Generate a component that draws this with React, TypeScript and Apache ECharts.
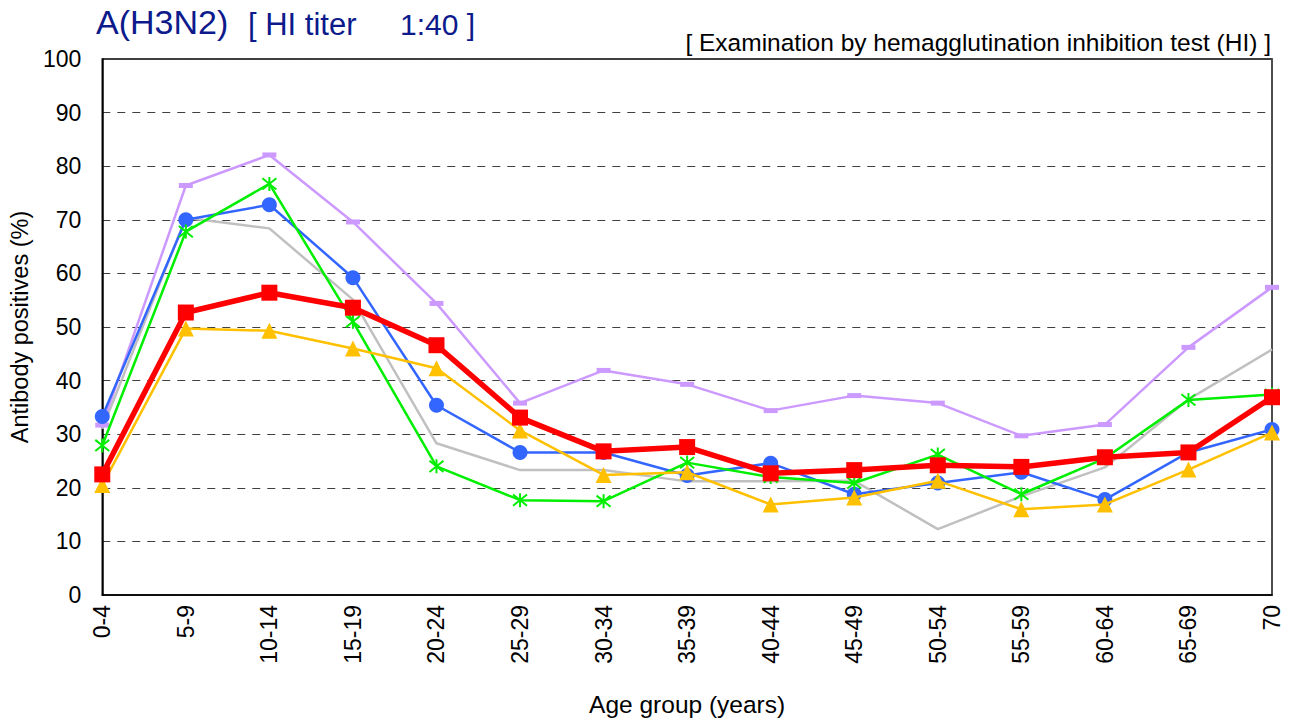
import React, { useEffect, useRef } from "react";
import * as echarts from "echarts";

const categories = ["0-4","5-9","10-14","15-19","20-24","25-29","30-34","35-39","40-44","45-49","50-54","55-59","60-64","65-69","70"];
const graySeries = [31.0, 70.4, 68.4, 55.1, 28.3, 23.3, 23.3, 21.2, 21.2, 21.3, 12.3, 18.4, 23.8, 36.5, 45.8];
const purpleSeries = [31.7, 76.4, 82.1, 69.6, 54.4, 35.8, 41.9, 39.3, 34.4, 37.2, 35.8, 29.7, 31.8, 46.2, 57.4];
const blueSeries = [33.3, 70.0, 72.8, 59.2, 35.4, 26.6, 26.6, 22.3, 24.6, 18.8, 20.9, 22.9, 17.8, 26.6, 30.9];
const greenSeries = [27.9, 67.8, 76.7, 51.0, 24.0, 17.7, 17.5, 24.7, 22.0, 20.9, 26.2, 18.8, 25.5, 36.4, 37.4];
const yellowSeries = [20.5, 49.7, 49.3, 46.0, 42.3, 30.7, 22.4, 22.9, 16.9, 18.2, 21.3, 16.0, 16.9, 23.4, 30.3];
const redSeries = [22.5, 52.7, 56.4, 53.6, 46.6, 33.1, 26.8, 27.6, 22.7, 23.3, 24.2, 23.9, 25.7, 26.6, 36.9];

const asterisk = "path://M1,1L9,9M9,1L1,9M5,0L5,10";

export default function App() {
  const ref = useRef<HTMLDivElement>(null);
  useEffect(() => {
    if (!ref.current) return;
    const chart = echarts.init(ref.current, null, { renderer: "svg" });
    const font = "'Liberation Sans', Arial, sans-serif";
    chart.setOption({
      animation: false,
      textStyle: { fontFamily: font },
      graphic: [
        { type: "text", left: 96, top: 5, style: { text: "A(H3N2)", font: "34px " + font, fill: "#0d1a8c" } },
        { type: "text", left: 248, top: 9, style: { text: "[ HI titer", font: "31px " + font, fill: "#0d1a8c" } },
        { type: "text", left: 400, top: 9, style: { text: "1:40 ]", font: "30px " + font, fill: "#0d1a8c" } },
        { type: "text", right: 19, top: 30, style: { text: "[ Examination by hemagglutination inhibition test (HI) ]", font: "24.5px " + font, fill: "#000" } },
      ],
      grid: { left: 102, right: 18, top: 59, bottom: 126, containLabel: false, show: true, borderColor: "#000", borderWidth: 1.5 },
      xAxis: {
        type: "category",
        data: categories,
        boundaryGap: false,
        axisLine: { lineStyle: { color: "#000", width: 1.5 } },
        axisTick: { show: false },
        axisLabel: { rotate: 90, fontSize: 23, color: "#000", margin: 10, fontFamily: font },
        name: "Age group (years)",
        nameLocation: "middle",
        nameGap: 97,
        nameTextStyle: { fontSize: 24.5, color: "#000", fontFamily: font },
      },
      yAxis: [
        {
          type: "value",
          min: 0,
          max: 100,
          interval: 10,
          axisLine: { show: true, lineStyle: { color: "#000", width: 1.5 } },
          axisTick: { show: false },
          axisLabel: { fontSize: 23, color: "#000", margin: 21, fontFamily: font },
          splitLine: { show: true, lineStyle: { color: "#404040", type: [8, 7], width: 1 } },
          name: "Antibody positives (%)",
          nameLocation: "middle",
          nameGap: 68,
          nameTextStyle: { fontSize: 23.5, color: "#000", fontFamily: font },
        },
        {
          type: "value",
          position: "right",
          min: 0,
          max: 100,
          interval: 10,
          axisLine: { show: true, lineStyle: { color: "#555", width: 1.5 } },
          axisTick: { show: false },
          axisLabel: { show: false },
          splitLine: { show: false },
        },
      ],
      series: [
        {
          type: "line", data: graySeries, symbol: "none", z: 1,
          lineStyle: { color: "#c0c0c0", width: 2.5 }, itemStyle: { color: "#c0c0c0" },
        },
        {
          type: "line", data: purpleSeries, symbol: "rect", symbolSize: [14, 5], z: 2,
          lineStyle: { color: "#cc99ff", width: 2.5 }, itemStyle: { color: "#cc99ff" },
        },
        {
          type: "line", data: blueSeries, symbol: "circle", symbolSize: 15, z: 3,
          lineStyle: { color: "#3366ff", width: 2.5 }, itemStyle: { color: "#3366ff" },
        },
        {
          type: "line", data: greenSeries, symbol: asterisk, symbolSize: 14, z: 4,
          lineStyle: { color: "#00ee00", width: 2.5 },
          itemStyle: { color: "transparent", borderColor: "#00ee00", borderWidth: 2 },
        },
        {
          type: "line", data: yellowSeries, symbol: "triangle", symbolSize: 16, z: 5,
          lineStyle: { color: "#ffc000", width: 2.5 }, itemStyle: { color: "#ffc000" },
        },
        {
          type: "line", data: redSeries, symbol: "rect", symbolSize: 16, z: 6,
          lineStyle: { color: "#ff0000", width: 5.5 }, itemStyle: { color: "#ff0000" },
        },
      ],
    });
    return () => chart.dispose();
  }, []);
  return <div ref={ref} style={{ width: 1290, height: 722, position: "absolute", left: 0, top: 0, background: "#fff" }} />;
}
